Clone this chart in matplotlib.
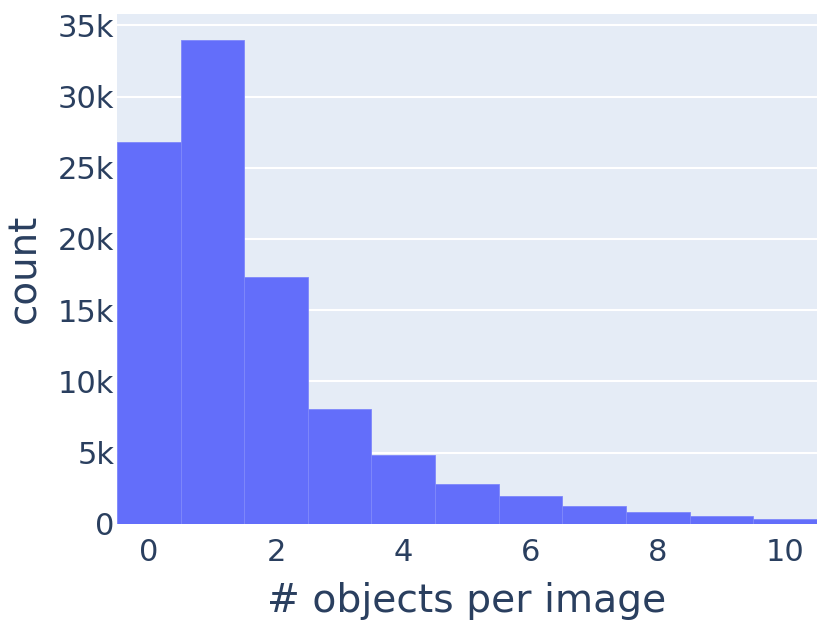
import matplotlib
matplotlib.use("Agg")
import matplotlib.pyplot as plt
import numpy as np

objects_per_image = [0, 1, 2, 3, 4, 5, 6, 7, 8, 9, 10]
counts = [26830, 34000, 17350, 8030, 4800, 2810, 1920, 1240, 800, 540, 310]
xticks = [0, 2, 4, 6, 8, 10]
yticks = [0, 5000, 10000, 15000, 20000, 25000, 30000, 35000]
ytick_labels = ["0", "5k", "10k", "15k", "20k", "25k", "30k", "35k"]

plt.rcParams['font.family'] = ['DejaVu Sans']
text_color = "#2a3f5f"

fig = plt.figure(figsize=(8.30, 6.24), dpi=100)
ax = fig.add_axes([0.141, 0.1607, 0.843, 0.8169])
ax.set_facecolor("#E5ECF6")

ax.bar(objects_per_image, counts, width=1.0, color="#636EFA",
       edgecolor="#7f88fb", linewidth=0.6, zorder=3)

ax.set_xlim(-0.5, 10.5)
ax.set_ylim(0, 35800)
ax.set_xticks(xticks)
ax.set_xticklabels([str(t) for t in xticks])
ax.set_yticks(yticks)
ax.set_yticklabels(ytick_labels)
ax.grid(axis='y', color='white', linewidth=1.5, zorder=1)
ax.set_axisbelow(True)
for s in ax.spines.values():
    s.set_visible(False)
ax.tick_params(axis='both', length=0, labelsize=22, colors=text_color)
ax.tick_params(axis='x', pad=10)
ax.tick_params(axis='y', pad=2)

ax.set_xlabel("# objects per image", fontsize=28.3, color=text_color, labelpad=11)
ax.set_ylabel("count", fontsize=28, color=text_color, labelpad=10)

fig.savefig("out.png", dpi=100, facecolor="white")
